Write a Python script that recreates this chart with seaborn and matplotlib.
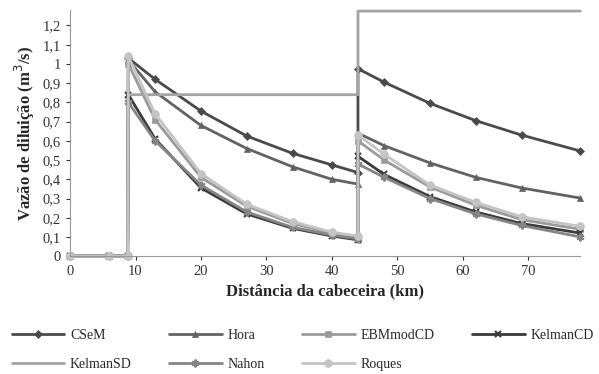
import numpy as np
import pandas as pd
import matplotlib
matplotlib.use("Agg")
import matplotlib.pyplot as plt
import seaborn as sns

# distance from the head (km) - two points at 44 for the jump
dist = [0, 6, 8.8, 8.9, 13, 20, 27, 34, 40, 44, 44, 48, 55, 62, 69, 78]

cseme = [0, 0, 0, 1.03, 0.92, 0.755, 0.625, 0.535, 0.475, 0.435, 0.975, 0.905, 0.795, 0.705, 0.63, 0.547]
hora = [0, 0, 0, 1.02, 0.855, 0.68, 0.56, 0.465, 0.40, 0.375, 0.64, 0.575, 0.485, 0.41, 0.355, 0.302]
ebm = [0, 0, 0, 1.0, 0.71, 0.41, 0.26, 0.17, 0.12, 0.10, 0.60, 0.50, 0.36, 0.265, 0.19, 0.14]
kelman_cd = [0, 0, 0, 0.84, 0.61, 0.355, 0.22, 0.145, 0.105, 0.085, 0.52, 0.425, 0.31, 0.23, 0.17, 0.12]
kelman_sd = [0, 0, 0, 0.84, 0.84, 0.84, 0.84, 0.84, 0.84, 0.84, 1.275, 1.275, 1.275, 1.275, 1.275, 1.275]
nahon = [0, 0, 0, 0.80, 0.60, 0.37, 0.23, 0.15, 0.11, 0.09, 0.48, 0.41, 0.30, 0.22, 0.16, 0.10]
roques = [0, 0, 0, 1.04, 0.74, 0.43, 0.27, 0.18, 0.125, 0.105, 0.63, 0.53, 0.37, 0.28, 0.205, 0.155]

series = ["CSeM", "Hora", "EBMmodCD", "KelmanCD", "KelmanSD", "Nahon", "Roques"]
values = [cseme, hora, ebm, kelman_cd, kelman_sd, nahon, roques]
colors = ["#4a4a4a", "#626262", "#9a9a9a", "#3a3a3a", "#a4a4a4", "#858585", "#c4c4c4"]
markers = ["D", "^", "s", "x", None, (6, 2, 0), "o"]
msizes = [6, 7, 7, 7, 0, 8, 8]

sns.set_style("white")
plt.rcParams['font.family'] = ['Liberation Serif', 'DejaVu Serif']

fig = plt.figure(figsize=(5.99, 3.74), dpi=100)
ax = fig.add_axes([0.117, 0.315, 0.852, 0.658])

for name, vals, c, m, ms in zip(series, values, colors, markers, msizes):
    df = pd.DataFrame({"x": dist, "y": vals})
    sns.lineplot(data=df, x="x", y="y", ax=ax, color=c, lw=2,
                 marker=m, markersize=ms, markeredgecolor=c,
                 markeredgewidth=1.5 if m in ("x", (6, 2, 0)) else 0.5,
                 estimator=None, sort=False, label=name, clip_on=False)

ax.set_xlim(0, 78)
ax.set_ylim(0, 1.28)
ax.set_xticks(np.arange(0, 80, 10))
yt = np.round(np.arange(0, 1.21, 0.1), 1)
ax.set_yticks(yt)
ax.set_yticklabels([("%g" % v).replace(".", ",") for v in yt])
ax.tick_params(axis="both", labelsize=10.5, colors="#333333", length=3, direction="out")
ax.tick_params(axis="x", bottom=True)
ax.tick_params(axis="y", left=True)
for s in ["top", "right"]:
    ax.spines[s].set_visible(False)
for s in ["left", "bottom"]:
    ax.spines[s].set_color("#999999")
ax.set_xlabel("Distância da cabeceira (km)", fontsize=12, fontweight="bold", labelpad=4)
ax.set_ylabel("Vazão de diluição (m$^3$/s)", fontsize=12, fontweight="bold", labelpad=4)

handles, labels = ax.get_legend_handles_labels()
ax.get_legend().remove()
for h in handles:
    h.set_markersize(h.get_markersize() * 0.7)
# legend fills column by column, so reorder to read row by row
order = [0, 4, 1, 5, 2, 6, 3]
fig.legend([handles[i] for i in order], [labels[i] for i in order],
           loc="upper left", bbox_to_anchor=(0.01, 0.0, 0.99, 0.135), mode="expand",
           ncol=4, frameon=False, fontsize=10, handlelength=3.8,
           handletextpad=0.4, labelspacing=1.15, borderaxespad=0)

fig.savefig("out.png", dpi=100)
